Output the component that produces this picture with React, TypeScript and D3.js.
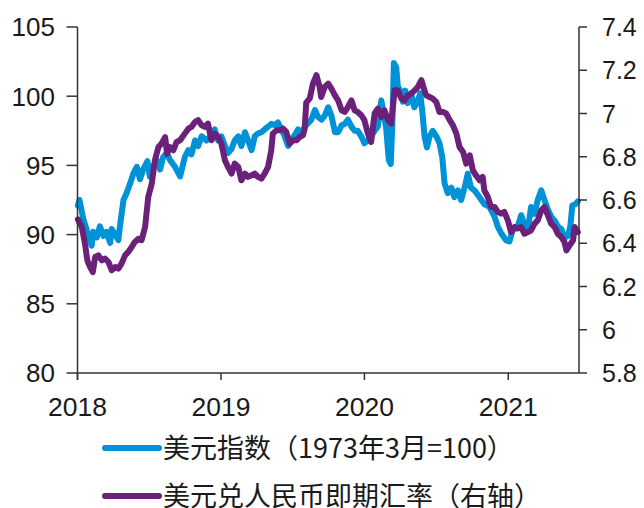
import React from "react";
import * as d3 from "d3";

// ---- data ----
const dxyDates = [
  "2018-01-02","2018-01-06","2018-01-16","2018-01-29","2018-02-06","2018-02-10","2018-02-19","2018-02-27",
  "2018-03-08","2018-03-16","2018-03-25","2018-03-29","2018-04-07","2018-04-15","2018-04-19","2018-04-28",
  "2018-05-06","2018-05-15","2018-05-23","2018-06-01","2018-06-09","2018-06-17","2018-06-28","2018-07-04",
  "2018-07-13","2018-07-21","2018-07-30","2018-08-07","2018-08-16","2018-08-24","2018-09-06","2018-09-19",
  "2018-10-01","2018-10-10","2018-10-18","2018-10-27","2018-11-04","2018-11-13","2018-11-25","2018-12-08",
  "2018-12-16","2018-12-25","2019-01-02","2019-01-11","2019-01-19","2019-01-28","2019-02-05","2019-02-14",
  "2019-02-22","2019-03-03","2019-03-11","2019-03-20","2019-03-28","2019-04-05","2019-04-14","2019-04-22",
  "2019-05-01","2019-05-09","2019-05-18","2019-05-26","2019-06-04","2019-06-12","2019-06-21","2019-06-29",
  "2019-07-08","2019-07-16","2019-07-25","2019-08-02","2019-08-06","2019-08-19","2019-08-28","2019-09-05",
  "2019-09-14","2019-09-22","2019-10-01","2019-10-09","2019-10-18","2019-10-26","2019-11-04","2019-11-12",
  "2019-11-20","2019-11-29","2019-12-07","2019-12-15","2019-12-24","2020-01-01","2020-01-10","2020-01-18",
  "2020-01-27","2020-02-04","2020-02-13","2020-02-19","2020-02-25","2020-03-03","2020-03-08","2020-03-12",
  "2020-03-16","2020-03-22","2020-03-26","2020-04-01","2020-04-08","2020-04-14","2020-04-20","2020-04-29",
  "2020-05-07","2020-05-16","2020-05-22","2020-05-27","2020-06-02","2020-06-08","2020-06-15","2020-06-23",
  "2020-07-02","2020-07-10","2020-07-17","2020-07-23","2020-07-31","2020-08-09","2020-08-17","2020-08-26",
  "2020-09-03","2020-09-12","2020-09-20","2020-09-28","2020-10-07","2020-10-20","2020-11-01","2020-11-14",
  "2020-11-27","2020-12-05","2020-12-14","2020-12-26","2021-01-04","2021-01-12","2021-01-25","2021-02-03",
  "2021-02-11","2021-02-20","2021-02-28","2021-03-09","2021-03-17","2021-03-26","2021-04-03","2021-04-12",
  "2021-04-20","2021-04-29","2021-05-07","2021-05-16","2021-05-24","2021-06-02","2021-06-08","2021-06-13",
  "2021-06-21","2021-06-27"
];
const dxyValues = [
  92.1,92.5,91.1,89.9,89.2,90.2,89.8,90.6,
  89.9,90.2,89.4,90.4,90.0,89.6,90.6,92.5,
  93.0,93.7,94.4,94.9,94.0,94.7,95.3,94.2,
  94.9,95.4,94.7,95.6,95.9,95.4,94.9,94.2,
  95.6,96.1,95.8,96.8,96.4,97.1,96.8,97.2,
  97.6,96.8,97.1,96.4,95.9,96.2,96.8,97.1,
  96.4,97.4,96.8,96.1,97.1,97.3,97.4,97.6,
  97.8,98.0,97.9,98.1,97.6,97.1,96.4,96.8,
  97.2,97.6,97.3,97.8,97.9,98.3,99.0,98.5,
  98.3,98.6,99.2,98.6,97.4,97.4,97.9,98.0,
  98.3,97.8,97.5,97.5,97.1,96.6,96.8,97.1,
  97.5,97.8,99.7,98.7,97.8,95.4,95.1,98.0,
  102.4,102.1,100.7,100.4,99.6,100.4,99.5,100.2,
  99.2,99.7,100.2,99.0,97.1,96.3,97.1,97.5,
  97.1,96.6,95.6,93.7,93.0,93.4,92.7,93.2,
  92.5,93.4,94.4,93.4,93.2,92.7,92.2,92.0,
  91.3,90.6,90.1,89.6,89.5,90.3,90.6,91.4,
  90.7,90.4,92.0,91.5,92.5,93.2,92.5,91.8,
  91.3,91.0,90.6,90.4,89.8,89.9,90.6,92.1,
  92.2,92.4
];

const cnyDates = [
  "2018-01-02","2018-01-12","2018-01-20","2018-01-26","2018-02-02","2018-02-09","2018-02-15","2018-02-23",
  "2018-03-04","2018-03-12","2018-03-21","2018-03-29","2018-04-07","2018-04-15","2018-04-23","2018-05-02",
  "2018-05-10","2018-05-19","2018-05-27","2018-06-05","2018-06-13","2018-06-22","2018-06-30","2018-07-09",
  "2018-07-17","2018-07-26","2018-08-03","2018-08-12","2018-08-17","2018-08-24","2018-09-02","2018-09-10",
  "2018-09-19","2018-10-01","2018-10-10","2018-10-18","2018-10-27","2018-11-04","2018-11-13","2018-11-21",
  "2018-11-29","2018-12-08","2018-12-16","2018-12-25","2019-01-02","2019-01-11","2019-01-19","2019-01-28",
  "2019-02-05","2019-02-14","2019-02-22","2019-03-03","2019-03-11","2019-03-20","2019-03-28","2019-04-05",
  "2019-04-14","2019-04-22","2019-05-01","2019-05-09","2019-05-13","2019-05-22","2019-05-30","2019-06-08",
  "2019-06-16","2019-06-25","2019-07-03","2019-07-12","2019-07-20","2019-07-29","2019-08-02","2019-08-06",
  "2019-08-15","2019-08-23","2019-09-01","2019-09-09","2019-09-13","2019-09-22","2019-10-01","2019-10-09",
  "2019-10-18","2019-10-26","2019-11-04","2019-11-12","2019-11-20","2019-11-29","2019-12-07","2019-12-15",
  "2019-12-24","2020-01-01","2020-01-10","2020-01-18","2020-01-27","2020-02-04","2020-02-13","2020-02-21",
  "2020-03-01","2020-03-09","2020-03-18","2020-03-26","2020-04-04","2020-04-12","2020-04-21","2020-04-29",
  "2020-05-08","2020-05-16","2020-05-25","2020-05-30","2020-06-06","2020-06-15","2020-06-23","2020-07-02",
  "2020-07-10","2020-07-19","2020-07-27","2020-08-05","2020-08-13","2020-08-22","2020-08-30","2020-09-08",
  "2020-09-16","2020-09-25","2020-10-03","2020-10-11","2020-10-20","2020-10-28","2020-11-01","2020-11-10",
  "2020-11-18","2020-11-27","2020-12-05","2020-12-14","2020-12-22","2020-12-31","2021-01-08","2021-01-17",
  "2021-01-25","2021-02-03","2021-02-11","2021-02-20","2021-02-28","2021-03-09","2021-03-17","2021-03-26",
  "2021-04-03","2021-04-12","2021-04-20","2021-04-29","2021-05-07","2021-05-16","2021-05-24","2021-05-29",
  "2021-06-06","2021-06-15","2021-06-19","2021-06-27"
];
const cnyValues = [
  6.51,6.475,6.398,6.321,6.29,6.267,6.337,6.344,
  6.321,6.329,6.313,6.275,6.29,6.283,6.306,6.344,
  6.36,6.383,6.406,6.421,6.414,6.475,6.614,6.676,
  6.784,6.845,6.861,6.891,6.814,6.845,6.83,6.868,
  6.876,6.907,6.93,6.938,6.961,6.969,6.945,6.938,
  6.953,6.876,6.907,6.891,6.861,6.784,6.753,6.722,
  6.768,6.753,6.691,6.722,6.707,6.714,6.722,6.707,
  6.699,6.722,6.753,6.83,6.907,6.922,6.922,6.93,
  6.915,6.861,6.876,6.876,6.891,6.9,6.93,7.05,
  7.07,7.138,7.177,7.123,7.076,7.123,7.138,7.115,
  7.084,7.061,7.015,7.007,7.03,7.061,7.015,7.007,
  6.992,6.969,6.907,6.868,7.0,7.022,6.984,7.015,
  6.969,6.953,7.107,7.107,7.069,7.061,7.084,7.092,
  7.107,7.123,7.154,7.123,7.084,7.076,7.069,7.053,
  7.007,7.007,7.0,6.969,6.946,6.907,6.845,6.822,
  6.768,6.807,6.737,6.714,6.691,6.707,6.645,6.614,
  6.568,6.568,6.545,6.537,6.545,6.506,6.452,6.475,
  6.468,6.475,6.444,6.452,6.46,6.491,6.506,6.552,
  6.568,6.529,6.491,6.475,6.444,6.429,6.406,6.367,
  6.39,6.414,6.475,6.452
];

const leftTicks = [80, 85, 90, 95, 100, 105];
const rightTicks = [5.8, 6.0, 6.2, 6.4, 6.6, 6.8, 7.0, 7.2, 7.4];
const yearTicks = ["2018", "2019", "2020", "2021"];
const legendLabels = ["美元指数（1973年3月=100）", "美元兑人民币即期汇率（右轴）"];
const seriesColors = ["#0092D6", "#6B2179"];

const W = 644, H = 508;
const parse = d3.timeParse("%Y-%m-%d");

export default function App() {
  const x = d3.scaleTime()
    .domain([parse("2018-01-01")!, parse("2021-06-30")!])
    .range([77.5, 579]);
  const yL = d3.scaleLinear().domain([80, 105]).range([373, 27]);
  const yR = d3.scaleLinear().domain([5.8, 7.4]).range([373, 27]);

  const dxy = dxyDates.map((d, i) => ({ d: parse(d)!, v: dxyValues[i] }));
  const cny = cnyDates.map((d, i) => ({ d: parse(d)!, v: cnyValues[i] }));

  const lineL = d3.line<{ d: Date; v: number }>().x(p => x(p.d)).y(p => yL(p.v)).curve(d3.curveLinear);
  const lineR = d3.line<{ d: Date; v: number }>().x(p => x(p.d)).y(p => yR(p.v)).curve(d3.curveLinear);

  const axisColor = "#333";
  const tickFont = "'Liberation Sans', Arial, sans-serif";
  const x0 = x.range()[0], x1 = x.range()[1];
  const yb = yL(80), yt = yL(105);

  return (
    <svg width={W} height={H} style={{ position: "absolute", left: 0, top: 0, background: "#fff" }}>
      {/* lines */}
      <path d={lineL(dxy) || ""} fill="none" stroke={seriesColors[0]} strokeWidth={6}
        strokeLinejoin="round" strokeLinecap="round" />
      <path d={lineR(cny) || ""} fill="none" stroke={seriesColors[1]} strokeWidth={6}
        strokeLinejoin="round" strokeLinecap="round" />

      {/* left axis */}
      <line x1={x0} x2={x0} y1={yt} y2={yb + 7} stroke={axisColor} strokeWidth={1.5} />
      {leftTicks.map(t => (
        <g key={"l" + t}>
          <line x1={x0 - 11} x2={x0} y1={yL(t)} y2={yL(t)} stroke={axisColor} strokeWidth={1.5} />
          <text x={55} y={yL(t)} dy="0.36em" textAnchor="end" fontFamily={tickFont} fontSize={26} fill="#1a1a1a">{t}</text>
        </g>
      ))}

      {/* right axis */}
      <line x1={x1} x2={x1} y1={yt} y2={yb} stroke={axisColor} strokeWidth={1.5} />
      {rightTicks.map(t => (
        <g key={"r" + t}>
          <line x1={x1} x2={x1 + 8} y1={yR(t)} y2={yR(t)} stroke={axisColor} strokeWidth={1.5} />
          <text x={602} y={yR(t)} dy="0.36em" textAnchor="start" fontFamily={tickFont} fontSize={25} fill="#1a1a1a">{d3.format("~g")(t)}</text>
        </g>
      ))}

      {/* bottom axis */}
      <line x1={x0} x2={x1} y1={yb} y2={yb} stroke={axisColor} strokeWidth={1.5} />
      {yearTicks.map(t => {
        const xp = x(parse(t + "-01-01")!);
        return (
          <g key={"x" + t}>
            <line x1={xp} x2={xp} y1={yb} y2={yb + 7} stroke={axisColor} strokeWidth={1.5} />
            <text x={xp} y={416} textAnchor="middle" fontFamily={tickFont} fontSize={26.5} fill="#1a1a1a">{t}</text>
          </g>
        );
      })}

      {/* legend */}
      {legendLabels.map((lab, i) => {
        const ly = 448 + i * 48;
        return (
          <g key={"lg" + i}>
            <line x1={105} x2={159} y1={ly} y2={ly} stroke={seriesColors[i]} strokeWidth={6} strokeLinecap="round" />
            <text x={163} y={ly} dy="0.36em" fontFamily="'Noto Sans CJK SC', sans-serif" fontSize={27} fill="#1a1a1a">{lab}</text>
          </g>
        );
      })}
    </svg>
  );
}
